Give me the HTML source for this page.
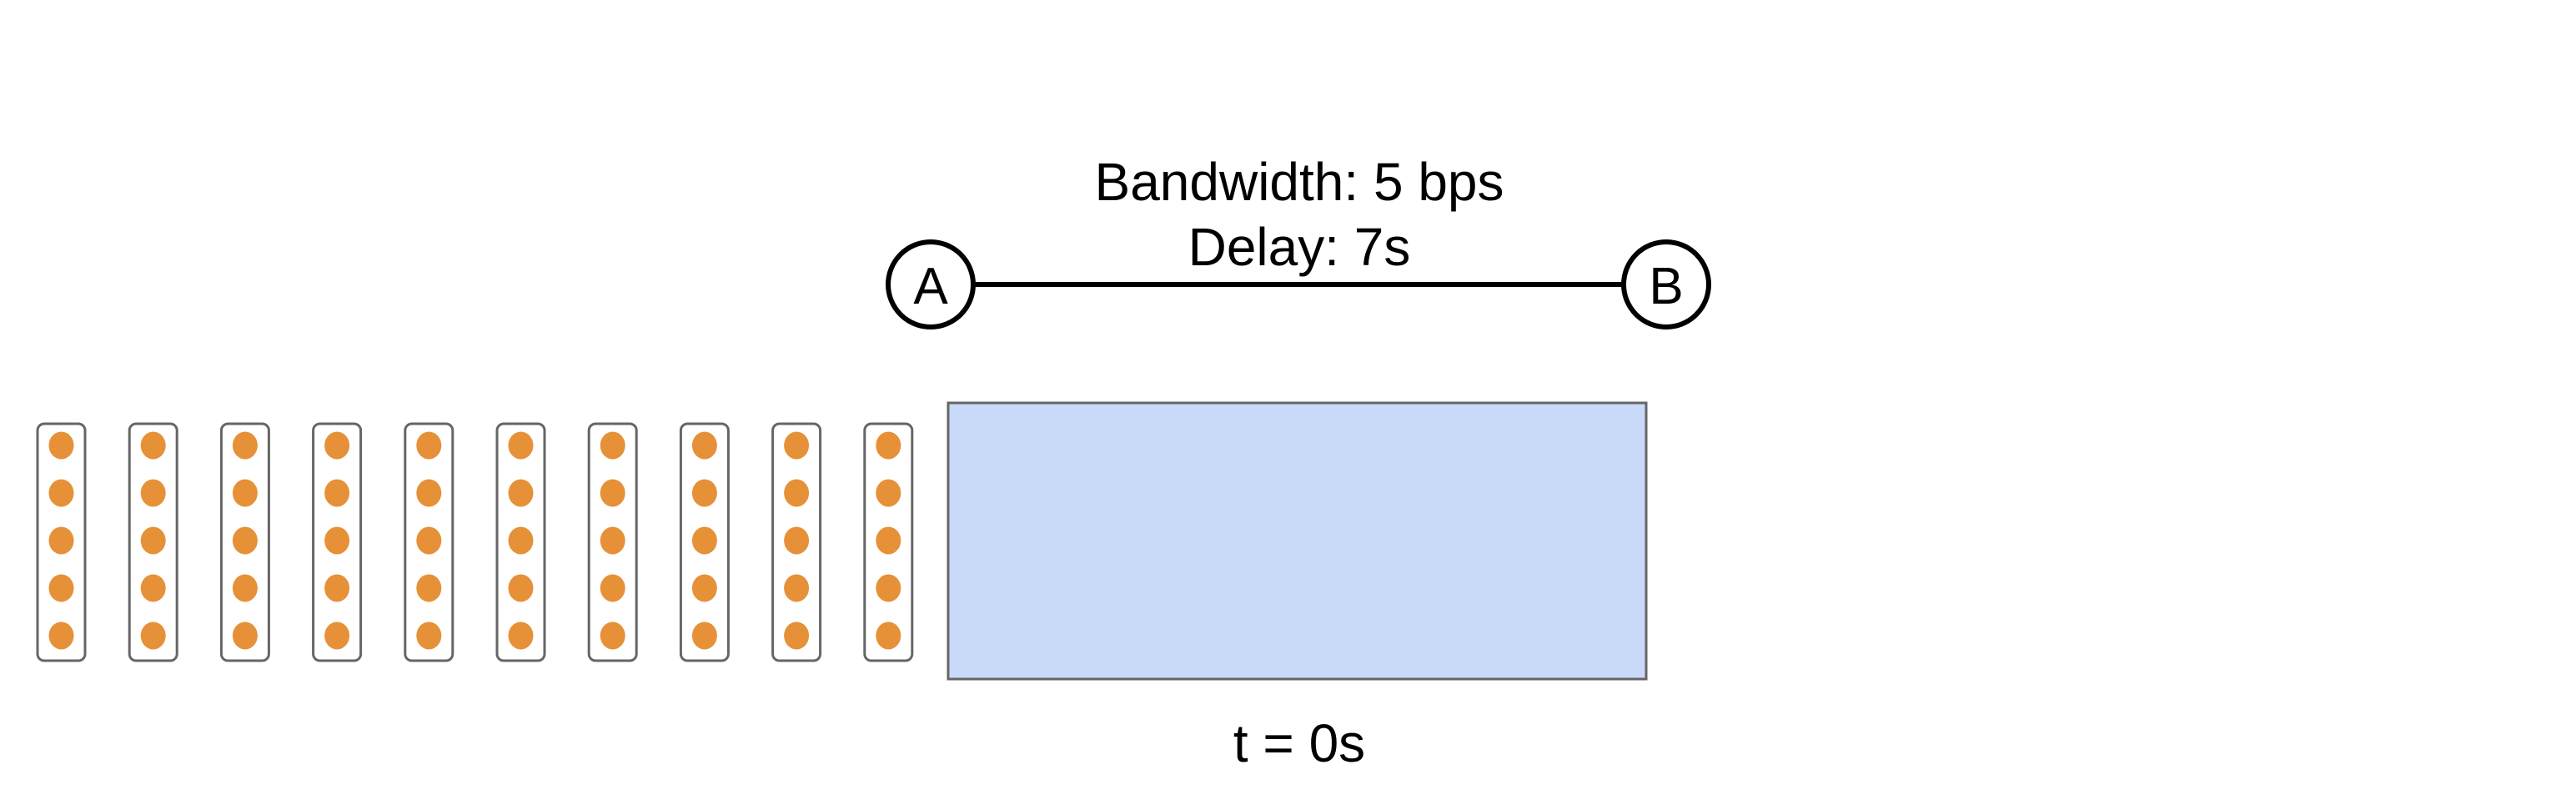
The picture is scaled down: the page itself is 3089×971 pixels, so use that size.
<!DOCTYPE html>
<html><head><meta charset="utf-8">
<style>
html,body{margin:0;padding:0;background:#fff;}
svg{display:block;}
text{font-family:"Liberation Sans",sans-serif;fill:#000;}
</style></head>
<body>
<svg id="diagram" width="3089" height="971" viewBox="0 0 3089 971">
  <rect x="0" y="0" width="3089" height="971" fill="#fff"/>
  <text x="1558" y="240" font-size="64" text-anchor="middle">Bandwidth: 5 bps</text>
  <text x="1558" y="318" font-size="64" text-anchor="middle">Delay: 7s</text>
  <line x1="1166" y1="341" x2="1947" y2="341" stroke="#000" stroke-width="6"/>
  <g>
    <circle cx="1116" cy="341" r="51" fill="#fff" stroke="#000" stroke-width="6"/>
    <text x="1116" y="364" font-size="62" text-anchor="middle">A</text>
  </g>
  <g>
    <circle cx="1998" cy="341" r="51" fill="#fff" stroke="#000" stroke-width="6"/>
    <text x="1998" y="364" font-size="62" text-anchor="middle">B</text>
  </g>
  <g id="packets"></g>
  <rect x="1137" y="483" width="837" height="331" fill="#c9daf8" stroke="#666" stroke-width="3"/>
  <text x="1558" y="913" font-size="64" text-anchor="middle">t = 0s</text>
</svg>
<script>
const packetCount = 10;
const bitsPerPacket = 5;
const ns = "http://www.w3.org/2000/svg";
const g = document.getElementById("packets");
for (let i = 0; i < packetCount; i++) {
  const x = 45 + i * 110.2;
  const grp = document.createElementNS(ns, "g");
  
  
  const r = document.createElementNS(ns, "rect");
  r.setAttribute("x", x); r.setAttribute("y", 508);
  r.setAttribute("width", 57); r.setAttribute("height", 284);
  r.setAttribute("rx", 8); r.setAttribute("fill", "#fff");
  r.setAttribute("stroke", "#666"); r.setAttribute("stroke-width", 3);
  
  
  grp.appendChild(r);
  for (let j = 0; j < bitsPerPacket; j++) {
    const c = document.createElementNS(ns, "ellipse");
    c.setAttribute("cx", x + 28.5); c.setAttribute("cy", 534 + j * 57);
    c.setAttribute("rx", 15); c.setAttribute("ry", 16.5);
    c.setAttribute("fill", "#e69138");
    
    
    grp.appendChild(c);
  }
  g.appendChild(grp);
}
</script>
</body></html>
